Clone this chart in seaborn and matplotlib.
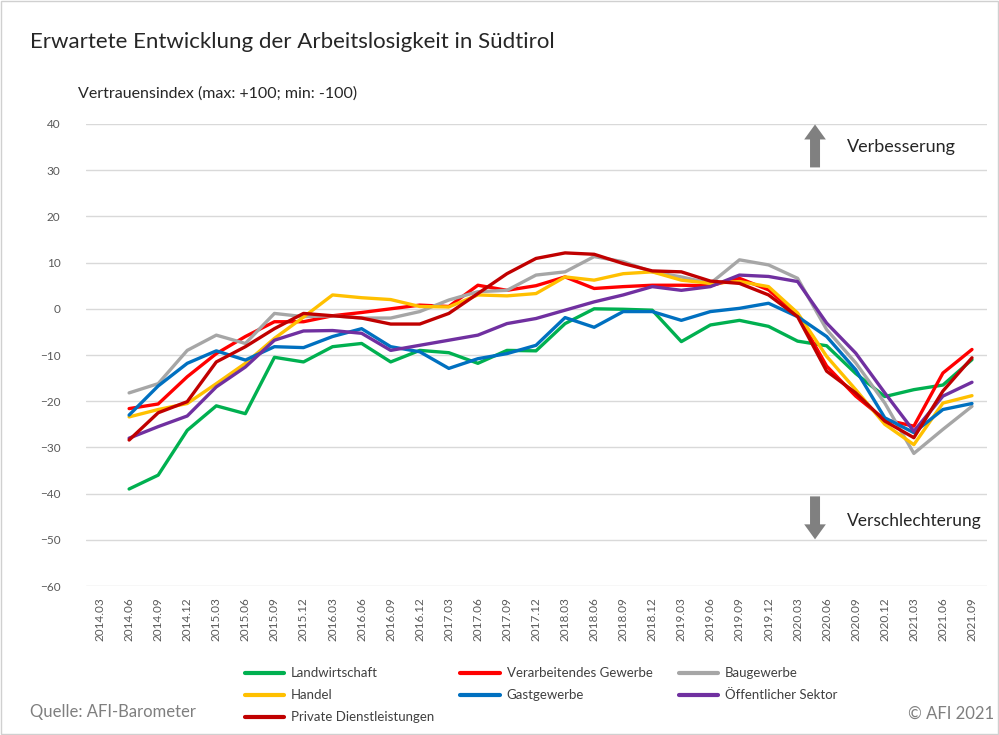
import pandas as pd
import seaborn as sns
import matplotlib.pyplot as plt
from matplotlib.lines import Line2D

# Quarter labels on the x axis (data starts at the second quarter)
quarters = ["2014.03", "2014.06", "2014.09", "2014.12",
            "2015.03", "2015.06", "2015.09", "2015.12",
            "2016.03", "2016.06", "2016.09", "2016.12",
            "2017.03", "2017.06", "2017.09", "2017.12",
            "2018.03", "2018.06", "2018.09", "2018.12",
            "2019.03", "2019.06", "2019.09", "2019.12",
            "2020.03", "2020.06", "2020.09", "2020.12",
            "2021.03", "2021.06", "2021.09"]

# Values from 2014.06 to 2021.09
landwirtschaft = [-39, -36, -26.3, -21, -22.7, -10.5, -11.5, -8.2, -7.5, -11.5,
                  -9, -9.5, -11.8, -9, -9.1, -3.2, 0, -0.1, -0.3, -7.1,
                  -3.5, -2.5, -3.8, -7, -8, -14, -19, -17.5, -16.5, -11]
verarbeitendes = [-21.6, -20.6, -14.7, -9.7, -6, -2.8, -2.8, -1.5, -0.8, 0,
                  0.8, 0.5, 5.1, 4, 5, 6.9, 4.4, 4.8, 5.1, 5.1,
                  5, 6.6, 4.1, -1.3, -12.4, -18.9, -24, -25.4, -13.9, -8.8]
baugewerbe = [-18.2, -16.2, -9, -5.7, -7.5, -1, -1.7, -1.5, -2, -2,
              -0.6, 1.9, 3.7, 4, 7.3, 8, 11.3, 10.2, 8, 6.9,
              5.5, 10.6, 9.5, 6.6, -4.5, -11.7, -20.4, -31.3, -26.1, -21.1]
handel = [-23.4, -21.8, -20.5, -16.2, -11.8, -6.4, -1.8, 3, 2.4, 2,
          0.5, 0.4, 3, 2.8, 3.3, 6.9, 6.2, 7.6, 8, 6.2,
          5.5, 5.9, 4.8, -0.9, -10.3, -17.5, -25, -29.4, -20.4, -18.8]
gastgewerbe = [-23, -16.7, -11.8, -9.1, -11.1, -8.2, -8.4, -6, -4.3, -8.2,
               -9.3, -12.9, -10.8, -9.7, -7.9, -1.9, -4, -0.6, -0.6, -2.5,
               -0.6, 0.1, 1.2, -1.7, -6, -13.2, -23.6, -26.8, -21.8, -20.5]
oeffentlich = [-28, -25.5, -23.2, -16.9, -12.6, -6.8, -4.8, -4.7, -5.3, -9,
               -7.9, -6.8, -5.7, -3.2, -2.1, -0.3, 1.5, 3, 4.8, 4,
               4.8, 7.3, 7, 5.9, -3.1, -9.6, -18.2, -26.5, -18.9, -15.9]
private = [-28.4, -22.5, -20.1, -11.5, -8.2, -4.3, -1, -1.5, -2, -3.3,
           -3.3, -1, 3.3, 7.6, 10.9, 12.1, 11.8, 9.8, 8.2, 8,
           6, 5.5, 3, -1.7, -13.5, -18.2, -24.3, -27.9, -17.8, -10.6]

series = {
    "Landwirtschaft": landwirtschaft,
    "Verarbeitendes Gewerbe": verarbeitendes,
    "Baugewerbe": baugewerbe,
    "Handel": handel,
    "Gastgewerbe": gastgewerbe,
    "Öffentlicher Sektor": oeffentlich,
    "Private Dienstleistungen": private,
}
colors = {
    "Landwirtschaft": "#00B050",
    "Verarbeitendes Gewerbe": "#FF0000",
    "Baugewerbe": "#A6A6A6",
    "Handel": "#FFC000",
    "Gastgewerbe": "#0070C0",
    "Öffentlicher Sektor": "#7030A0",
    "Private Dienstleistungen": "#C00000",
}

rows = []
for name, vals in series.items():
    for i, v in enumerate(vals):
        rows.append({"pos": i + 1, "Sektor": name, "Wert": v})
df = pd.DataFrame(rows)

sns.set_theme(style="white")
plt.rcParams["font.family"] = ["Lato", "DejaVu Sans"]

fig = plt.figure(figsize=(9.99, 7.35), dpi=100)
ax = fig.add_axes([0.0856, 0.2027, 0.9019, 0.6286])

sns.lineplot(data=df, x="pos", y="Wert", hue="Sektor", palette=colors,
             linewidth=2.4, ax=ax, legend=False)

ax.set_xlim(-0.5, len(quarters) - 0.5)
ax.set_ylim(-60, 40)
ax.set_yticks(range(-60, 41, 10))
ax.set_xticks(range(len(quarters)))
ax.set_xticklabels(quarters, rotation=90)
ax.tick_params(axis="both", length=0, labelsize=8.5, labelcolor="#595959")
ax.tick_params(axis="x", pad=8)
ax.tick_params(axis="y", pad=18)
ax.yaxis.grid(True, color="#d9d9d9", lw=1)
ax.set_axisbelow(True)
ax.set_xlabel("")
ax.set_ylabel("")
for s in ax.spines.values():
    s.set_visible(False)

# Arrows with direction labels
arrow_style = "simple,head_width=1.3,head_length=0.9,tail_width=0.6"
ax.annotate("", xy=(24.6, 40.5), xytext=(24.6, 30), annotation_clip=False,
            arrowprops=dict(arrowstyle=arrow_style, color="#808080", lw=0))
ax.text(25.7, 35, "Verbesserung", fontsize=13, color="#262626", va="center")
ax.annotate("", xy=(24.6, -50.5), xytext=(24.6, -40), annotation_clip=False,
            arrowprops=dict(arrowstyle=arrow_style, color="#808080", lw=0))
ax.text(25.7, -46, "Verschlechterung", fontsize=12.5, color="#262626", va="center")

# Titles and notes
fig.text(0.030, 0.943, "Erwartete Entwicklung der Arbeitslosigkeit in Südtirol",
         fontsize=16, color="#262626", va="center")
fig.text(0.078, 0.873, "Vertrauensindex (max: +100; min: -100)",
         fontsize=11.5, color="#262626", va="center")
fig.text(0.030, 0.031, "Quelle: AFI-Barometer", fontsize=12, color="#7f7f7f", va="center")
fig.text(0.995, 0.029, "© AFI 2021", fontsize=12, color="#7f7f7f", va="center", ha="right")

# Legend, column-wise order
order = ["Landwirtschaft", "Handel", "Private Dienstleistungen",
         "Verarbeitendes Gewerbe", "Gastgewerbe",
         "Baugewerbe", "Öffentlicher Sektor"]
handles = [Line2D([], [], color=colors[n], lw=3) for n in order]
fig.legend(handles, order, ncol=3, loc="upper left",
           bbox_to_anchor=(0.233, 0.108), frameon=False, fontsize=9.5,
           handlelength=3, handletextpad=0.5, columnspacing=2.0,
           labelspacing=0.75, labelcolor="#404040")

fig.patches.append(plt.Rectangle((0.001, 0.001), 0.998, 0.998, transform=fig.transFigure,
                                 fill=False, edgecolor="#d0d0d0", lw=1))

fig.savefig("out.png", dpi=100)
